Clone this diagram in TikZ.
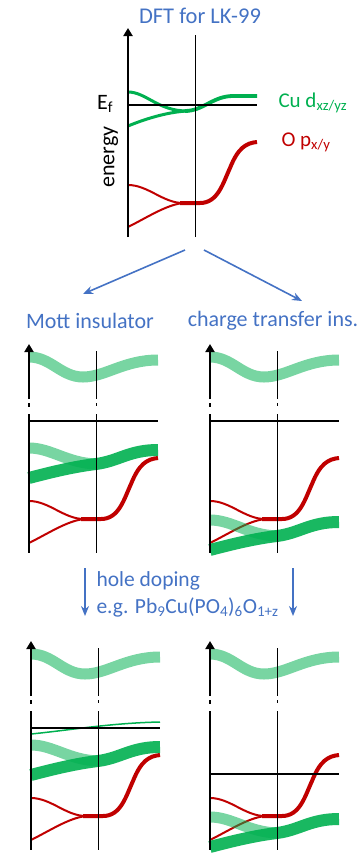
\documentclass[tikz,border=0pt]{standalone}
\usepackage{fontspec}
\setmainfont{Carlito}
\usepackage{tikz}
\usetikzlibrary{arrows.meta}
\definecolor{cured}{HTML}{C00000}
\definecolor{cugreen}{HTML}{00B050}
\definecolor{txtblue}{HTML}{4472C4}

% axes of one panel, origin = flat point of the O p band
\newcommand{\panelaxes}[2]{%
  \ifnum#2=1
    \draw[axis] (0,34) -- (0,-175);
    \draw[kline] (67,34) -- (67,-168);
  \else
    \draw[axis] (0,-120) -- (0,-175);
    \draw[axisline] (0,-116) -- (0,-112);
    \draw[axisline] (0,-105) -- (0,34);
    \draw[kline] (67,-168) -- (67,-120);
    \draw[kline] (67,-116) -- (67,-113);
    \draw[kline] (67,-105) -- (67,34);
  \fi
  \draw[efline] (0,#1) -- (129,#1);
}
\newcommand{\redbands}{%
  \draw[redthin] (0,-18) .. controls (20,-18) and (35,0) .. (55,0);
  \draw[redthin] (0,24) .. controls (20,14) and (38,2) .. (55,0);
  \draw[redthick] (52,0) -- (72,0) .. controls (90,0) and (95,-20) .. (102,-35)
    .. controls (110,-55) and (118,-60) .. (129,-61);
}
\newcommand{\upperband}{%
  \draw[lightband] (0,-162) .. controls (22,-162) and (32,-142) .. (54,-142)
    .. controls (76,-142) and (95,-159) .. (129,-159);
}
\newcommand{\lowerbands}[1]{%
  \begin{scope}[shift={(0,#1)}]
    \draw[lightband] (0,-71) .. controls (22,-71) and (38,-56) .. (67,-55);
    \draw[darkband] (0,-41) .. controls (30,-49) and (50,-53) .. (67,-55)
      .. controls (90,-58) and (100,-69) .. (129,-69);
  \end{scope}
}

\begin{document}
\begin{tikzpicture}[x=1pt,y=-1pt,
    axis/.style={line width=2.5pt,-{Triangle[width=9pt,length=8pt]}},
    axisline/.style={line width=2.5pt},
    kline/.style={line width=0.7pt},
    efline/.style={line width=2pt},
    redthin/.style={cured,line width=2pt},
    redthick/.style={cured,line width=4pt},
    gthin/.style={cugreen,line width=3pt},
    lightband/.style={cugreen,opacity=0.53,line width=11pt},
    darkband/.style={cugreen,opacity=0.9,line width=12pt},
    lbl/.style={font=\fontsize{22}{26}\selectfont},
    bluearrow/.style={->,txtblue,line width=1.6pt},
    >={Stealth[length=10pt,width=8pt]}]
\useasboundingbox (0,0) rectangle (359,857);

% DFT panel
\node[lbl,txtblue,font=\fontsize{22.5}{27}\selectfont] (title) at (200,16) {DFT for LK-99};
\begin{scope}[shift={(128,203)}]
  \redbands
  \draw[gthin] (0,-111) .. controls (18,-111) and (30,-92) .. (59,-92);
  \draw[gthin] (0,-77) .. controls (22,-86) and (42,-91) .. (59,-92);
  \draw[gthin,line width=3.8pt] (57,-92) .. controls (75,-92) and (85,-107) .. (105,-107) -- (129,-107);
  \panelaxes{-98}{1}
\end{scope}
\node[lbl] (ef) at (105,104) {E\textsubscript{f}};
\node[lbl,rotate=90] (energy) at (111,157) {energy};
\node[lbl,cugreen,anchor=west,font=\fontsize{21}{25}\selectfont] (cu) at (275,103) {Cu d\textsubscript{xz/yz}};
\node[lbl,cured,anchor=west,font=\fontsize{21}{25}\selectfont] (ox) at (278,142) {O p\textsubscript{x/y}};

% split into the two insulators
\coordinate (splitL) at (185,250);
\coordinate (splitR) at (204,250);
\node[lbl,txtblue] (mott) at (90,321) {Mott insulator};
\node[lbl,txtblue] (ct) at (273,321) {charge transfer ins.};
\coordinate (mottTip) at (83,294);
\coordinate (ctTip) at (302,301);
\draw[bluearrow] (splitL) -- (mottTip);
\draw[bluearrow] (splitR) -- (ctTip);

\begin{scope}[shift={(29,519)}]
  \upperband
  \redbands
  \lowerbands{0}
  \panelaxes{-98}{0}
\end{scope}
\begin{scope}[shift={(210,519)}]
  \upperband
  \redbands
  \lowerbands{72}
  \panelaxes{-98}{0}
\end{scope}

% hole doping
\coordinate (dnLa) at (85,568);
\coordinate (dnLb) at (85,616);
\coordinate (dnRa) at (293,568);
\coordinate (dnRb) at (293,616);
\draw[bluearrow] (dnLa) -- (dnLb);
\draw[bluearrow] (dnRa) -- (dnRb);
\node[txtblue,anchor=west,align=left,font=\fontsize{21.5}{27}\selectfont] (doping) at (93,594)
  {hole doping\\e.g. Pb\textsubscript{9}Cu(PO\textsubscript{4})\textsubscript{6}O\textsubscript{1+z}};

\begin{scope}[shift={(31,816)}]
  \upperband
  \redbands
  \lowerbands{0}
  \draw[cugreen,line width=1.5pt] (0,-82) .. controls (40,-86) and (80,-93) .. (129,-94);
  \panelaxes{-88}{0}
\end{scope}
\begin{scope}[shift={(210,816)}]
  \upperband
  \redbands
  \lowerbands{72}
  \panelaxes{-42}{0}
\end{scope}
\end{tikzpicture}
\end{document}
